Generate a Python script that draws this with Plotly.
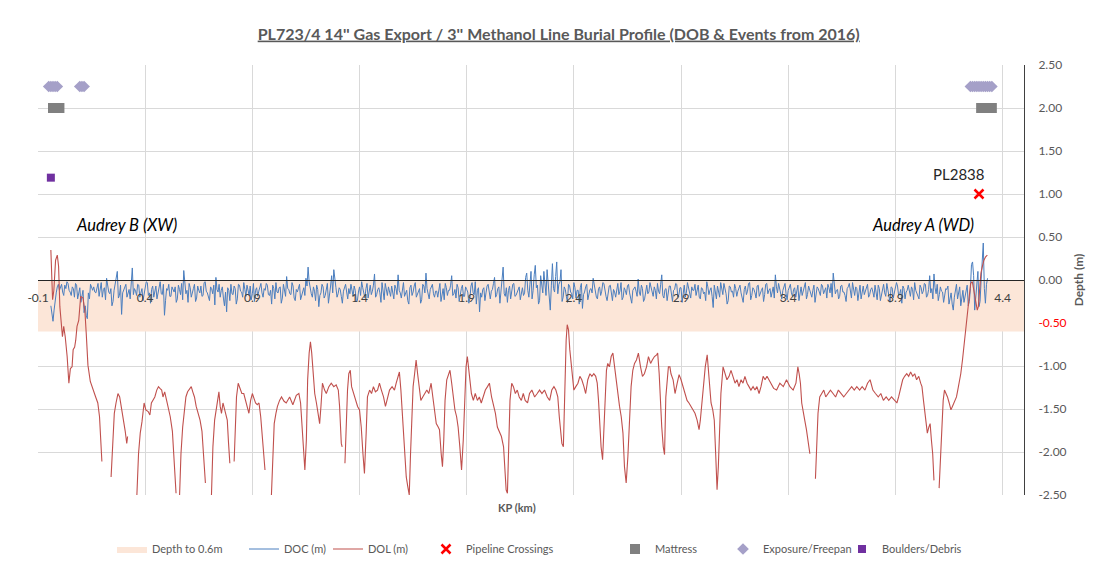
import plotly.graph_objects as go

# ---------------- data ----------------
TITLE = "PL723/4 14'' Gas Export / 3'' Methanol Line Burial Profile (DOB & Events from 2016)"

X_TICKS = [-0.1, 0.4, 0.9, 1.4, 1.9, 2.4, 2.9, 3.4, 3.9, 4.4]
Y_TICKS = [2.5, 2.0, 1.5, 1.0, 0.5, 0.0, -0.5, -1.0, -1.5, -2.0, -2.5]

BAND_KP = [-0.1, 4.5]
BAND_DEPTH = [-0.6, -0.6]

# Depth of cover, read every 0.01 km from KP -0.04 ...
DOC_KP_START = -0.04
DOC_KP_STEP = 0.01
DOC_DEPTH = [
    -0.30, -0.48, -0.22, -0.08, -0.12, -0.05, -0.18, -0.10, -0.04, -0.14, -0.08, -0.20, -0.06, -0.16, -0.26, -0.12, -0.30, -0.45, -0.22, -0.10,
    -0.08, -0.15, -0.04, -0.12, -0.20, -0.09, 0.02, -0.14, -0.10, -0.25, -0.06, 0.10, -0.18, -0.40, -0.12, -0.05, -0.16, -0.22, 0.14, -0.10,
    -0.18, -0.06, -0.13, -0.24, -0.09, -0.03, -0.15, -0.11, -0.20, -0.07, -0.14, -0.02, -0.17, -0.41, -0.10, -0.05, -0.19, -0.12, -0.08, -0.22,
    -0.11, -0.04, 0.11, -0.16, -0.26, -0.09, -0.13, -0.05, -0.21, -0.12, -0.07, -0.18, -0.02, -0.15, -0.24, -0.10, -0.06, 0.03, -0.14, -0.20,
    -0.08, -0.30, -0.37, -0.12, -0.05, -0.17, -0.10, -0.22, -0.06, -0.14, -0.03, -0.19, -0.11, -0.07, -0.16, -0.25, -0.09, -0.13, -0.04, -0.20,
    -0.12, -0.06, -0.18, -0.28, -0.10, -0.03, -0.15, -0.08, -0.21, -0.13, 0.04, -0.11, -0.17, -0.07, -0.24, -0.14, -0.05, -0.19, -0.09, 0.02,
    0.15, -0.10, -0.20, -0.13, -0.06, -0.31, -0.15, -0.08, -0.18, -0.04, -0.12, 0.05, 0.12, -0.09, -0.16, -0.11, -0.27, -0.07, -0.14, -0.10,
    -0.05, -0.19, -0.12, -0.24, -0.08, -0.02, -0.15, -0.10, -0.21, -0.06, -0.13, 0.07, -0.17, -0.09, -0.26, -0.11, -0.04, -0.18, -0.13, -0.07,
    -0.22, -0.10, 0.06, -0.15, -0.08, -0.19, -0.12, -0.28, -0.06, -0.14, -0.03, -0.17, -0.10, -0.23, -0.07, 0.08, -0.16, -0.11, -0.05, -0.20,
    -0.13, -0.08, -0.25, -0.10, -0.04, -0.18, -0.12, 0.05, -0.16, -0.21, -0.09, -0.14, -0.06, -0.19, -0.11, -0.27, -0.07, -0.15, -0.02, -0.12,
    -0.37, -0.20, -0.09, -0.15, -0.05, -0.22, -0.11, 0.03, -0.17, -0.08, -0.13, 0.15, -0.19, -0.26, -0.07, -0.14, -0.04, -0.18, -0.10, -0.23,
    -0.09, -0.15, 0.08, -0.20, 0.10, -0.12, 0.17, -0.06, -0.24, -0.10, 0.10, -0.18, -0.08, -0.35, 0.19, -0.14, 0.21, -0.05, 0.12, -0.20,
    -0.11, -0.26, -0.07, -0.16, -0.03, -0.21, -0.12, -0.09, -0.33, -0.14, -0.05, -0.18, -0.10, 0.02, -0.15, -0.22, -0.08, -0.13, -0.04, -0.19,
    -0.11, -0.06, -0.24, -0.14, -0.08, -0.17, -0.03, -0.20, -0.12, -0.07, -0.15, -0.27, -0.09, -0.13, 0.01, -0.18, -0.10, -0.22, -0.06, -0.14,
    -0.09, -0.19, -0.12, -0.04, -0.16, 0.06, -0.21, -0.10, -0.14, -0.07, -0.25, -0.11, -0.05, -0.17, -0.09, -0.13, -0.20, -0.03, -0.15, -0.08,
    -0.12, -0.18, -0.06, -0.22, -0.10, -0.14, -0.02, -0.17, -0.09, -0.32, -0.13, -0.07, -0.20, -0.11, -0.04, -0.16, -0.24, -0.08, -0.13, -0.05,
    -0.19, -0.10, -0.15, -0.26, -0.07, -0.13, -0.03, -0.18, -0.11, -0.21, -0.06, -0.14, -0.09, -0.17, -0.04, -0.12, -0.20, -0.08, 0.06, -0.15,
    -0.10, -0.22, -0.07, -0.16, -0.12, -0.05, -0.19, -0.09, -0.14, -0.24, -0.08, -0.13, -0.03, -0.17, -0.11, -0.20, -0.06, -0.15, -0.10, -0.18,
    -0.07, -0.13, -0.21, -0.09, -0.04, 0.08, -0.16, -0.11, -0.19, -0.06, -0.14, -0.25, -0.08, -0.12, -0.03, -0.18, -0.10, -0.15, -0.22, -0.07,
    -0.12, -0.05, -0.17, -0.09, -0.20, -0.13, -0.06, -0.24, -0.11, -0.15, -0.04, -0.18, -0.08, -0.21, -0.12, -0.07, -0.16, -0.27, -0.10, -0.14,
    -0.06, -0.19, -0.11, -0.03, -0.15, -0.22, -0.09, -0.13, -0.05, -0.18, 0.05, -0.10, 0.07, -0.16, -0.24, -0.08, -0.14, -0.20, -0.11, -0.28,
    -0.15, -0.35, -0.12, -0.22, -0.08, -0.18, -0.26, -0.13, -0.30, -0.10, 0.21, -0.35, -0.05, -0.31, 0.00, 0.43, -0.27, 0.02,
]
# ... and the readings in between (every 0.01 km from KP -0.035)
DOC_MID_KP_START = -0.035
DOC_MID_DEPTH = [
    -0.40, -0.35, -0.15, -0.05, -0.09, -0.14, -0.06, -0.02, -0.12, -0.18, -0.10, -0.04, -0.22, -0.09, -0.20, -0.38, -0.41, -0.15, -0.05, -0.12,
    -0.14, -0.07, -0.19, -0.03, -0.11, -0.23, -0.08, -0.16, -0.30, -0.12, 0.04, -0.21, -0.06, -0.15, -0.09, -0.20, -0.11, -0.04, -0.17, -0.13,
    -0.05, -0.20, -0.10, -0.15, -0.02, -0.18, -0.27, -0.07, -0.13, -0.22, -0.09, -0.16, -0.05, -0.24, -0.12, -0.19, -0.08, -0.14, -0.26, -0.06,
    -0.17, -0.23, -0.08, -0.12, -0.04, -0.20, -0.10, -0.25, -0.07, -0.15, -0.19, -0.03, -0.13, -0.22, -0.08, -0.16, -0.29, -0.11, -0.05, -0.12,
    -0.21, -0.14, -0.09, -0.24, -0.16, -0.07, -0.28, -0.05, -0.13, -0.20, -0.11, -0.06, -0.18, -0.23, -0.04, -0.12, -0.19, -0.08, -0.15, -0.10,
    -0.04, -0.17, -0.12, -0.06, -0.22, -0.14, -0.09, -0.27, -0.05, -0.19, -0.10, -0.16, -0.03, -0.21, -0.11, -0.08, -0.23, -0.13, -0.18, -0.07,
    -0.02, -0.16, -0.08, -0.24, -0.11, -0.18, -0.05, -0.21, -0.12, -0.27, -0.07, -0.15, -0.03, -0.20, -0.09, -0.19, -0.13, -0.05, -0.22, -0.16,
    -0.11, -0.07, -0.25, -0.14, -0.18, -0.09, -0.21, -0.04, -0.13, -0.17, -0.06, -0.20, -0.11, -0.15, -0.03, -0.23, -0.10, -0.08, -0.19, -0.14,
    -0.06, -0.17, -0.12, -0.21, -0.03, -0.14, -0.24, -0.09, -0.18, -0.07, -0.20, -0.12, -0.27, -0.05, -0.15, -0.10, -0.22, -0.08, -0.16, -0.13,
    -0.20, -0.04, -0.15, -0.23, -0.09, -0.12, -0.06, -0.18, -0.11, -0.05, -0.25, -0.10, -0.19, -0.08, -0.14, -0.21, -0.03, -0.17, -0.28, -0.09,
    -0.15, -0.11, -0.24, -0.07, -0.18, -0.13, -0.04, -0.20, -0.10, -0.27, -0.06, -0.16, -0.09, -0.12, -0.22, -0.05, -0.19, -0.14, -0.08, -0.17,
    -0.18, 0.03, -0.12, -0.05, -0.22, 0.06, -0.09, -0.28, 0.05, -0.15, -0.04, 0.12, -0.20, -0.06, -0.10, 0.04, -0.16, -0.02, -0.25, -0.08,
    -0.19, -0.05, -0.14, -0.22, -0.09, -0.12, -0.28, -0.04, -0.17, -0.08, -0.23, -0.11, -0.15, -0.06, -0.20, -0.10, -0.18, -0.03, -0.13, -0.24,
    -0.07, -0.16, -0.11, -0.20, -0.04, -0.13, -0.23, -0.09, -0.17, -0.05, -0.21, -0.12, -0.08, -0.19, -0.14, -0.06, -0.25, -0.11, -0.16, -0.03,
    -0.15, -0.08, -0.22, -0.13, -0.05, -0.18, -0.11, -0.24, -0.07, -0.16, -0.12, -0.04, -0.20, -0.09, -0.26, -0.06, -0.14, -0.10, -0.21, -0.12,
    -0.05, -0.13, -0.20, -0.09, -0.16, -0.24, -0.08, -0.12, -0.19, -0.06, -0.22, -0.15, -0.03, -0.17, -0.11, -0.28, -0.07, -0.14, -0.20, -0.10,
    -0.13, -0.06, -0.21, -0.11, -0.17, -0.04, -0.23, -0.09, -0.15, -0.07, -0.19, -0.12, -0.25, -0.05, -0.16, -0.10, -0.13, -0.21, -0.08, -0.04,
    -0.17, -0.12, -0.04, -0.23, -0.08, -0.15, -0.11, -0.20, -0.06, -0.13, -0.18, -0.09, -0.22, -0.07, -0.15, -0.12, -0.26, -0.08, -0.14, -0.05,
    -0.16, -0.09, -0.05, -0.15, -0.20, -0.03, -0.12, -0.22, -0.07, -0.14, -0.18, -0.10, -0.04, -0.21, -0.13, -0.08, -0.24, -0.06, -0.11, -0.17,
    -0.08, -0.20, -0.11, -0.14, -0.06, -0.23, -0.10, -0.16, -0.05, -0.19, -0.12, -0.26, -0.09, -0.15, -0.03, -0.18, -0.11, -0.07, -0.22, -0.12,
    -0.14, -0.08, -0.23, -0.12, -0.18, -0.06, -0.16, -0.04, -0.20, -0.11, -0.15, -0.22, -0.09, -0.05, -0.17, -0.13, -0.26, -0.10, -0.07, -0.19,
    -0.28, -0.20, -0.05, -0.15, -0.30, -0.12, -0.20, -0.06, -0.25, 0.18, 0.05, -0.20, 0.10, -0.25, 0.30, -0.10, -0.05,
]

# Depth of lowering (None = gap in the survey line)
DOL_KP = [
    -0.040, -0.032, -0.026, -0.018, -0.010, -0.004, 0.002, 0.010, 0.014, 0.020, 0.027, 0.036, 0.044, 0.051, 0.059, 0.064,
    0.071, 0.076, 0.082, 0.090, 0.099, 0.110, 0.119, 0.125, 0.133, 0.144, 0.156, 0.169, 0.179, 0.187, 0.198,
    None,
    0.241, 0.249, 0.256, 0.264, 0.273, 0.281, 0.289, 0.298, 0.307, 0.314, 0.318,
    None,
    0.361, 0.369, 0.377, 0.385, 0.395, 0.403, 0.414, 0.422, 0.429, 0.437, 0.445, 0.454, 0.462, 0.469, 0.477, 0.483,
    0.491, 0.500, 0.508, 0.517, 0.527, 0.533, 0.539, 0.544,
    None,
    0.560, 0.567, 0.575, 0.582, 0.590, 0.598, 0.607, 0.615, 0.622, 0.630, 0.638, 0.647, 0.656, 0.665, 0.673, 0.681,
    None,
    0.709, 0.716, 0.724, 0.732, 0.738, 0.744, 0.750, 0.756, 0.763, 0.769, 0.776, 0.783, 0.789, 0.795,
    None,
    0.815, 0.820, 0.826, 0.834, 0.842, 0.851, 0.860, 0.869, 0.878, 0.884, 0.892, 0.900, 0.908, 0.915, 0.923, 0.931,
    0.939, 0.946, 0.952, 0.959,
    None,
    0.989, 0.996, 1.002, 1.010, 1.017, 1.027, 1.036, 1.048, 1.058, 1.074, 1.089, 1.105, 1.117, 1.125, 1.133, 1.140,
    1.145, 1.152, 1.158, 1.165, 1.171, 1.177, 1.183, 1.191, 1.199, 1.207, 1.214, 1.220, 1.227, 1.237, 1.245, 1.257,
    1.268, 1.280, 1.291, 1.301, 1.307, 1.315, 1.319,
    None,
    1.332, 1.338, 1.344, 1.350, 1.357, 1.363, 1.372, 1.381, 1.391, 1.400,
    1.408, 1.416, 1.423, 1.431, 1.437, 1.447, 1.456, 1.465, 1.474, 1.484,
    1.493, 1.502, 1.512, 1.521, 1.530, 1.540, 1.552, 1.563, 1.571, 1.579,
    1.586, 1.593, 1.599, 1.605, 1.611, 1.618, 1.625, 1.632, 1.638, 1.644,
    1.650, 1.657, 1.664, 1.671, 1.678, 1.686, 1.695, 1.705, 1.714, 1.723,
    1.734, 1.742, 1.750, 1.758, 1.767, 1.773, 1.781, 1.787, 1.793, 1.799,
    1.807, 1.815, 1.822, 1.830, 1.836, 1.845, 1.853, 1.860, 1.868, 1.876,
    1.884, 1.891, 1.897, 1.903, 1.909, 1.915, 1.922, 1.931, 1.940, 1.950,
    1.959, 1.968, 1.978, 1.987, 1.997, 2.006, 2.016, 2.025, 2.034, 2.043,
    2.053, 2.062, 2.072, 2.078, 2.084, 2.090, 2.096, 2.102, 2.110, 2.118,
    2.127, 2.136, 2.145, 2.155, 2.164, 2.173, 2.184,
    2.193, 2.204, 2.217, 2.229, 2.240, 2.251, 2.263, 2.276, 2.287, 2.297,
    2.307, 2.316, 2.325, 2.332, 2.338, 2.344, 2.351, 2.355, 2.360, 2.364,
    2.369, 2.375, 2.381, 2.388, 2.394, 2.400, 2.409, 2.419, 2.428, 2.437,
    2.447, 2.455, 2.465, 2.475, 2.484, 2.493, 2.502, 2.509, 2.515, 2.521,
    2.527, 2.534, 2.540, 2.546, 2.552, 2.558, 2.566, 2.574, 2.582, 2.590,
    2.597, 2.605, 2.613, 2.621, 2.629, 2.636, 2.644, 2.652, 2.660, 2.667,
    2.675, 2.683, 2.692, 2.701, 2.711, 2.720, 2.729, 2.739, 2.748, 2.758,
    2.766, 2.776, 2.786, 2.791, 2.798, 2.804, 2.810, 2.817, 2.823, 2.829,
    2.835, 2.841, 2.848, 2.853, 2.863, 2.872, 2.882, 2.891, 2.900, 2.909,
    2.919, 2.928, 2.937, 2.947, 2.956, 2.965, 2.975, 2.984, 2.990, 2.998,
    3.006, 3.013, 3.022, 3.027, 3.034, 3.040, 3.048, 3.055, 3.062, 3.068,
    3.074, 3.080, 3.086, 3.096, 3.105, 3.114, 3.124, 3.133, 3.142, 3.152,
    3.161, 3.170, 3.180, 3.189, 3.198, 3.208, 3.217, 3.226, 3.236, 3.245,
    3.254, 3.264, 3.273, 3.283, 3.292, 3.301, 3.310, 3.319, 3.332,
    3.346, 3.361, 3.377, 3.392, 3.408, 3.423, 3.436, 3.445, 3.451, 3.457,
    3.463, 3.470, 3.477, 3.485, 3.493, 3.501,
    None,
    3.527, 3.533, 3.539, 3.547, 3.556, 3.566, 3.575, 3.586, 3.597, 3.609,
    3.621, 3.634, 3.646, 3.659, 3.671, 3.683, 3.696, 3.708, 3.720, 3.733,
    3.745, 3.758, 3.770, 3.782, 3.795, 3.807, 3.820, 3.832, 3.844, 3.857,
    3.869, 3.882, 3.894, 3.907, 3.915, 3.925, 3.934, 3.943, 3.953, 3.962,
    3.971, 3.981, 3.990, 3.999, 4.009, 4.018, 4.024, 4.031, 4.037, 4.043,
    4.049, 4.056, 4.062, 4.068, 4.074, 4.080,
    None,
    4.104, 4.111, 4.117, 4.123, 4.129, 4.136, 4.143, 4.151, 4.159, 4.166,
    4.176, 4.185, 4.191, 4.197, 4.205, 4.213, 4.220, 4.228, 4.236, 4.244,
    4.251, 4.259, 4.267, 4.274, 4.282, 4.287, 4.293, 4.299, 4.306, 4.313,
    4.321, 4.329,
]
DOL_DEPTH = [
    0.35, -0.23, -0.12, 0.23, 0.29, 0.16, -0.31, -0.54, -0.66, -0.54, -0.66, -0.89, -1.20, -1.03, -1.01, -0.81,
    -0.78, -0.70, -0.54, -0.47, -0.19, -0.21, -0.37, -0.62, -0.99, -1.18, -1.28, -1.36, -1.43, -1.59, -2.11,
    None,
    -2.29, -1.86, -1.55, -1.43, -1.32, -1.36, -1.47, -1.59, -1.76, -1.90, -1.82,
    None,
    -2.52, -2.02, -1.78, -1.65, -1.43, -1.51, -1.53, -1.57, -1.43, -1.40, -1.36, -1.28, -1.24, -1.26, -1.28, -1.36,
    -1.30, -1.40, -1.49, -1.59, -1.76, -1.98, -2.25, -2.48,
    None,
    -2.54, -2.02, -1.71, -1.51, -1.36, -1.30, -1.26, -1.24, -1.30, -1.36, -1.47, -1.55, -1.63, -1.76, -2.02, -2.36,
    None,
    -2.52, -1.94, -1.63, -1.47, -1.36, -1.30, -1.47, -1.55, -1.43, -1.49, -1.53, -1.63, -1.90, -2.13,
    None,
    -2.11, -1.71, -1.36, -1.20, -1.26, -1.32, -1.32, -1.40, -1.47, -1.55, -1.40, -1.32, -1.38, -1.43, -1.45, -1.43,
    -1.59, -1.78, -1.98, -2.21,
    None,
    -2.50, -1.94, -1.67, -1.55, -1.47, -1.40, -1.36, -1.41, -1.43, -1.36, -1.45, -1.34, -1.32, -1.43, -1.71, -1.94,
    -2.21, -1.86, -1.16, -0.85, -0.72, -0.85, -1.09, -1.32, -1.43, -1.55, -1.67, -1.47, -1.20, -1.28, -1.32, -1.24,
    -1.20, -1.24, -1.22, -1.28, -1.47, -1.90, -1.94,
    None,
    -2.13, -1.55, -1.28, -1.09, -1.05, -1.24, -1.32, -1.40, -1.47, -1.51,
    -1.71, -2.02, -2.25, -1.78, -1.36, -1.28, -1.32, -1.24, -1.30, -1.28,
    -1.20, -1.28, -1.36, -1.47, -1.36, -1.28, -1.24, -1.28, -1.20, -1.12,
    -1.07, -1.28, -1.51, -1.78, -2.05, -2.29, -2.40, -2.50, -2.02, -1.55,
    -1.24, -1.09, -0.93, -1.09, -1.24, -1.40, -1.36, -1.32, -1.28, -1.32,
    -1.20, -1.36, -1.51, -1.67, -1.71, -1.74, -2.02, -2.17, -1.86, -1.40,
    -1.16, -1.09, -1.05, -1.20, -1.36, -1.51, -1.59, -1.71, -1.94, -2.21,
    -1.86, -1.28, -1.01, -0.89, -1.05, -1.12, -1.32, -1.40, -1.32, -1.40,
    -1.36, -1.43, -1.36, -1.28, -1.24, -1.20, -1.36, -1.47, -1.55, -1.71,
    -1.78, -1.82, -1.94, -2.21, -2.44, -2.48, -1.86, -1.40, -1.20, -1.24,
    -1.32, -1.28, -1.36, -1.40, -1.32, -1.40, -1.43,
    -1.32, -1.28, -1.36, -1.32, -1.28, -1.32, -1.28, -1.36, -1.40, -1.28,
    -1.24, -1.28, -1.36, -1.59, -1.78, -1.90, -1.94, -1.47, -1.01, -0.70,
    -0.52, -0.58, -0.81, -1.01, -1.20, -1.28, -1.24, -1.20, -1.12, -1.16,
    -1.24, -1.32, -1.16, -1.09, -1.12, -1.09, -1.12, -1.20, -1.40, -1.67,
    -1.94, -2.09, -1.71, -1.28, -1.05, -0.97, -1.01, -0.89, -0.85, -1.01,
    -1.16, -1.32, -1.47, -1.59, -1.78, -2.17, -2.36, -2.05, -1.59, -1.24,
    -1.05, -0.97, -0.93, -0.85, -1.01, -1.12, -1.09, -1.01, -0.89, -0.97,
    -0.93, -0.89, -0.87, -0.85, -1.09, -1.47, -1.71, -1.94, -2.03, -1.36,
    -1.16, -1.01, -1.01, -1.09, -1.16, -1.32, -1.20, -1.10, -1.16, -1.24,
    -1.32, -1.40, -1.43, -1.47, -1.51, -1.55, -1.63, -1.74, -1.63, -1.40,
    -1.16, -1.01, -0.87, -1.05, -1.28, -1.43, -1.51, -1.63, -2.05, -2.44,
    -2.17, -1.63, -1.32, -1.01, -1.09, -1.16, -1.12, -1.05, -1.12, -1.20,
    -1.16, -1.24, -1.16, -1.20, -1.12, -1.20, -1.24, -1.28, -1.24, -1.28,
    -1.24, -1.32, -1.24, -1.12, -1.16, -1.12, -1.16, -1.20, -1.26,
    -1.28, -1.20, -1.24, -1.16, -1.24, -1.28, -1.20, -1.01, -1.09, -1.20,
    -1.43, -1.55, -1.63, -1.74, -1.90, -2.02,
    None,
    -2.31, -1.86, -1.55, -1.36, -1.32, -1.28, -1.36, -1.32, -1.28, -1.32,
    -1.36, -1.28, -1.32, -1.36, -1.32, -1.28, -1.24, -1.28, -1.24, -1.28,
    -1.24, -1.28, -1.20, -1.16, -1.28, -1.32, -1.36, -1.32, -1.40, -1.36,
    -1.40, -1.36, -1.40, -1.43, -1.36, -1.24, -1.16, -1.12, -1.09, -1.12,
    -1.07, -1.12, -1.09, -1.16, -1.12, -1.20, -1.24, -1.40, -1.55, -1.71,
    -1.78, -1.71, -1.67, -1.86, -2.02, -2.33,
    None,
    -2.42, -2.02, -1.71, -1.40, -1.28, -1.32, -1.36, -1.43, -1.51, -1.47,
    -1.40, -1.36, -1.28, -1.20, -1.09, -0.93, -0.78, -0.58, -0.43, -0.23,
    -0.04, -0.02, -0.12, -0.23, -0.35, -0.31, -0.08, 0.08, 0.16, 0.23,
    0.27, 0.29,
]

CROSSING_KP = [4.29]
CROSSING_Y = [1.0]
CROSSING_LABEL = ["PL2838"]

MATTRESS_KP = [-0.03, -0.02, -0.01, 0.0, 4.30, 4.31, 4.32, 4.33, 4.34, 4.35]
MATTRESS_Y = [2.0] * len(MATTRESS_KP)

EXPOSURE_KP = [-0.05, -0.04, -0.03, -0.02, -0.01, 0.095, 0.105, 0.115,
               4.25, 4.26, 4.27, 4.28, 4.29, 4.30, 4.31, 4.32, 4.33, 4.34, 4.35]
EXPOSURE_Y = [2.25] * len(EXPOSURE_KP)

BOULDER_KP = [-0.04]
BOULDER_Y = [1.19]

SITE_LABELS = ["Audrey B (XW)", "Audrey A (WD)"]
SITE_KP = [0.315, 4.03]
SITE_Y = [0.64, 0.64]

assert len(DOL_KP) == len(DOL_DEPTH)

# merge the two DOC reading sets in KP order
_doc = [(DOC_KP_START + i * DOC_KP_STEP, v) for i, v in enumerate(DOC_DEPTH)]
_doc += [(DOC_MID_KP_START + i * DOC_KP_STEP, v) for i, v in enumerate(DOC_MID_DEPTH)]
_doc.sort(key=lambda p: p[0])
DOC_KP = [round(p[0], 4) for p in _doc]
DOC_ALL = [p[1] for p in _doc]

# ---------------- figure ----------------
FONT = "Lato, Carlito, 'Open Sans', sans-serif"
GRID = "#D9D9D9"
TXT = "#595959"

fig = go.Figure()

fig.add_trace(go.Scatter(
    x=BAND_KP, y=BAND_DEPTH, mode="lines", fill="tozeroy",
    fillcolor="#FCE6D8", line=dict(width=0, color="#FCE6D8"),
    name="Depth to 0.6m", hoverinfo="skip", legend="legend"))

fig.add_trace(go.Scatter(
    x=DOC_KP, y=DOC_ALL, mode="lines",
    line=dict(color="#4A7EBF", width=1), name="DOC (m)", legend="legend2"))

fig.add_trace(go.Scatter(
    x=DOL_KP, y=DOL_DEPTH, mode="lines", connectgaps=False,
    line=dict(color="#C0504D", width=1.1), name="DOL (m)", legend="legend3"))

fig.add_trace(go.Scatter(
    x=CROSSING_KP, y=CROSSING_Y, mode="markers",
    marker=dict(symbol="x-thin", size=9, color="#FF0000",
                line=dict(width=2.5, color="#FF0000")),
    name="Pipeline Crossings", legend="legend4"))

fig.add_trace(go.Scatter(
    x=MATTRESS_KP, y=MATTRESS_Y, mode="markers",
    marker=dict(symbol="square", size=10, color="#808080", line=dict(width=0)),
    name="Mattress", legend="legend5"))

fig.add_trace(go.Scatter(
    x=EXPOSURE_KP, y=EXPOSURE_Y, mode="markers",
    marker=dict(symbol="diamond", size=9, color="#A5A0C8", line=dict(width=0)),
    name="Exposure/Freepan", legend="legend6"))

fig.add_trace(go.Scatter(
    x=BOULDER_KP, y=BOULDER_Y, mode="markers",
    marker=dict(symbol="square", size=8, color="#7030A0", line=dict(width=0)),
    name="Boulders/Debris", legend="legend7"))

annotations = []
for kp, y, txt in zip(CROSSING_KP, CROSSING_Y, CROSSING_LABEL):
    annotations.append(dict(x=kp, y=y, xref="x", yref="y", text=txt, showarrow=False,
                            xshift=-20, yshift=20, font=dict(size=15, color="#262626")))
for kp, y, txt in zip(SITE_KP, SITE_Y, SITE_LABELS):
    annotations.append(dict(x=kp, y=y, xref="x", yref="y", text=f"<i>{txt}</i>",
                            showarrow=False, font=dict(size=16.5, color="#000000")))
annotations.append(dict(x=0.486, y=-0.03, xref="paper", yref="paper", text="<b>KP (km)</b>",
                        showarrow=False, yanchor="middle",
                        font=dict(size=11, color=TXT)))

y_text = []
for v in Y_TICKS:
    s = f"{v:.2f}"
    if abs(v + 0.5) < 1e-9:
        s = f'<span style="color:#FF0000">{s}</span>'
    y_text.append(s)

# legend entries placed individually (text start in px of the page)
LEGEND_TEXT_PX = [152, 284, 368, 466, 655, 763, 882]
legends = {}
for i, tx in enumerate(LEGEND_TEXT_PX):
    key = "legend" if i == 0 else f"legend{i + 1}"
    legends[key] = dict(xref="container", yref="container", x=(tx - 40) / 1102,
                        xanchor="left", y=1 - 549 / 564, yanchor="middle",
                        orientation="h", font=dict(size=11, color=TXT),
                        bgcolor="rgba(0,0,0,0)", borderwidth=0)

fig.update_layout(
    width=1102, height=564,
    margin=dict(l=38, r=78, t=65, b=69, autoexpand=False),
    paper_bgcolor="white", plot_bgcolor="white",
    font=dict(family=FONT, color=TXT),
    title=dict(text=f"<b><u>{TITLE}</u></b>", x=0.507, xref="container", xanchor="center",
               y=1 - 34 / 564, yref="container", yanchor="middle",
               font=dict(size=16, color=TXT, family=FONT)),
    xaxis=dict(range=[-0.1, 4.5], tickvals=X_TICKS, ticktext=[f"{v:g}" for v in X_TICKS],
               anchor="free", position=0.5, showline=True, linecolor="#262626", linewidth=1,
               showgrid=True, gridcolor=GRID, gridwidth=1, zeroline=False, ticks="",
               tickfont=dict(size=12, color="#404040"), ticklabelstandoff=7),
    yaxis=dict(range=[-2.5, 2.5], side="right", tickvals=Y_TICKS, ticktext=y_text,
               showline=True, linecolor="#404040", linewidth=1, showgrid=True,
               gridcolor=GRID, gridwidth=1, zeroline=False, ticks="",
               tickfont=dict(size=12, color=TXT), ticklabelstandoff=11,
               title=dict(text="<b>Depth (m)</b>", font=dict(size=12, color=TXT), standoff=8)),
    annotations=annotations,
    showlegend=True,
    **legends,
)

fig.write_html("out.html",
               config={"displayModeBar": False},
               post_script="document.body.style.margin='0';document.body.style.padding='0';")
